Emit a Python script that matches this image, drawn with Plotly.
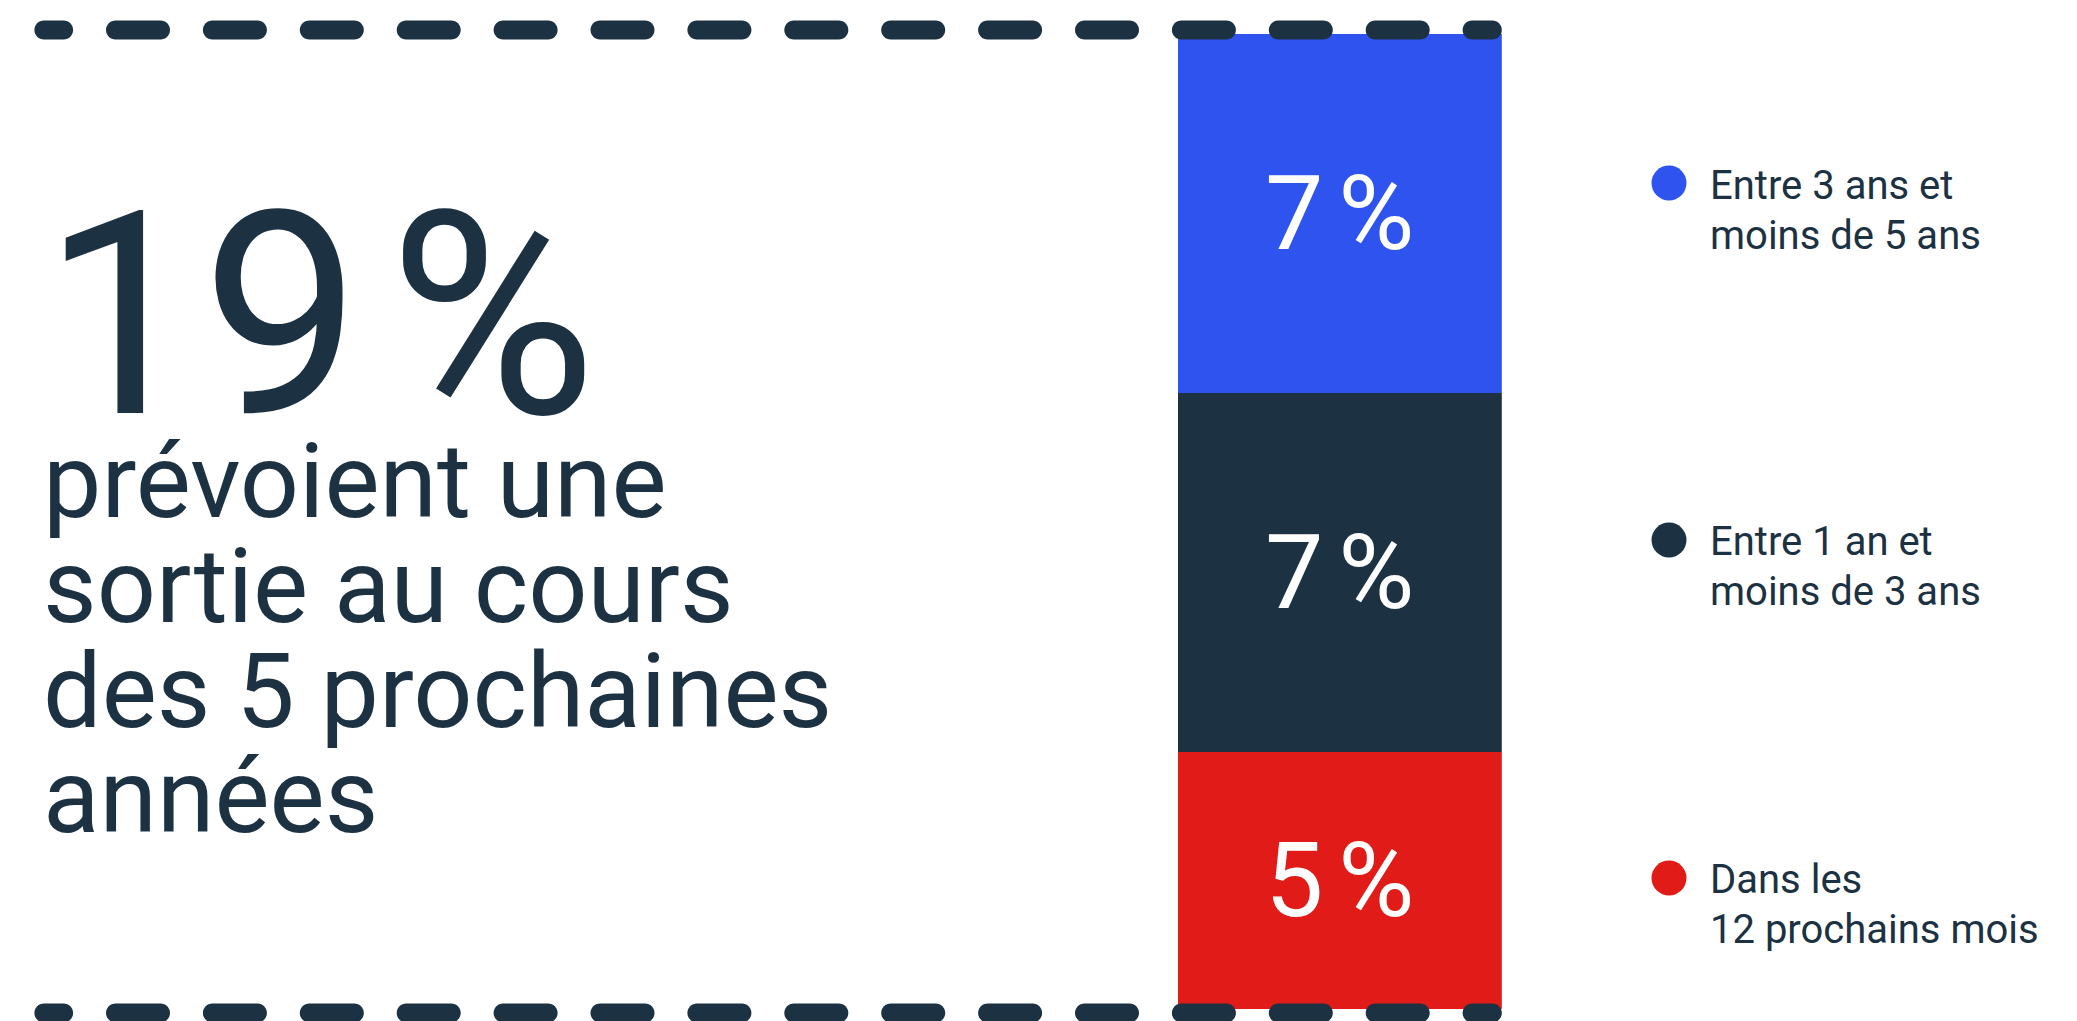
import plotly.graph_objects as go

W, H = 2077, 1021

# ---- data ----
categories = ["Dans les 12 prochains mois", "Entre 1 an et moins de 3 ans", "Entre 3 ans et moins de 5 ans"]
values = [5, 7, 7]
colors = ["#E11B17", "#1C3142", "#2E53EE"]
legend_lines = [["Dans les", "12 prochains mois"],
                ["Entre 1 an et", "moins de 3 ans"],
                ["Entre 3 ans et", "moins de 5 ans"]]
headline_lines = ["prévoient une", "sortie au cours", "des 5 prochaines", "années"]

NAVY = "#1C3142"
FONT = "Roboto"

fig = go.Figure()

# stacked bar
for cat, v, c in zip(categories, values, colors):
    fig.add_trace(go.Bar(
        x=[0], y=[v], name=cat, width=1,
        marker=dict(color=c, line=dict(width=0)),
        text=[f"{v}<span style='font-size:60px'> </span>%"], textposition="inside",
        insidetextanchor="middle", textangle=0,
        textfont=dict(family=FONT, size=104, color="white"),
        showlegend=False, hoverinfo="skip",
    ))

# pixel overlay subplot (for legend dots and decorative dashes)
legend_dot_y = [878, 540, 183]
fig.add_trace(go.Scatter(
    x=[1669] * len(categories), y=legend_dot_y, mode="markers",
    marker=dict(size=35, color=colors, line=dict(width=0)),
    xaxis="x2", yaxis="y2", showlegend=False, hoverinfo="skip", cliponaxis=False,
))

bar_top, bar_bot = 34, 1009
fig.update_layout(
    width=W, height=H,
    margin=dict(l=0, r=0, t=0, b=0),
    paper_bgcolor="white", plot_bgcolor="rgba(0,0,0,0)",
    barmode="stack", bargap=0,
    xaxis=dict(domain=[1177.7 / W, 1501.8 / W], range=[-0.5, 0.5], visible=False, fixedrange=True),
    yaxis=dict(domain=[(H - bar_bot) / H, (H - bar_top) / H], range=[0, sum(values)], visible=False, fixedrange=True),
    xaxis2=dict(domain=[0, 1], range=[0, W], visible=False, anchor="y2"),
    yaxis2=dict(domain=[0, 1], range=[H, 0], visible=False, anchor="x2"),
    showlegend=False,
)

# decorative dashed rules (round-capped dashes)
def dash_path(x0, x1, yc, h):
    r = h / 2
    k = 0.5523 * r
    a, b = x0 + r, x1 - r
    if b < a:
        b = a
    t, bo = yc - r, yc + r
    return (f"M {a},{t} L {b},{t} C {b+k},{t} {b+r},{yc-k} {b+r},{yc} "
            f"C {b+r},{yc+k} {b+k},{bo} {b},{bo} L {a},{bo} "
            f"C {a-k},{bo} {a-r},{yc+k} {a-r},{yc} C {a-r},{yc-k} {a-k},{t} {a},{t} Z")

LX0, LX1 = 34.4, 1501.8
PERIOD, DASH, PHASE = 96.9, 64.0, 9.1
THICK = 19
for yc in (30, 1013):
    s = PHASE
    while s < LX1:
        x0, x1 = max(s, LX0), min(s + DASH, LX1)
        if x1 > x0:
            fig.add_shape(type="path", path=dash_path(x0, x1, yc, THICK),
                          xref="x2", yref="y2", fillcolor=NAVY, line=dict(width=0), layer="above")
        s += PERIOD

# text helpers
ASC, DESC = 0.928, 0.244
def add_text(txt, x_px, baseline_px, size, color=NAVY):
    mid = baseline_px - (ASC - DESC) / 2 * size
    fig.add_annotation(text=txt, x=x_px / W, y=1 - mid / H, xref="paper", yref="paper",
                       xanchor="left", yanchor="middle", showarrow=False,
                       font=dict(family=FONT, size=size, color=color))

total = sum(values)
add_text(f"{total}<span style='font-size:110px'> </span>%", 40, 413, 284)
for i, line in enumerate(headline_lines):
    add_text(line, 41, 516.6 + i * 105, 104)

legend_baselines = [892.8, 555, 198.7]
for lines, b in zip(legend_lines, legend_baselines):
    for j, ln in enumerate(lines):
        add_text(ln, 1708, b + j * 50, 40)

fig.write_html("out.html")
